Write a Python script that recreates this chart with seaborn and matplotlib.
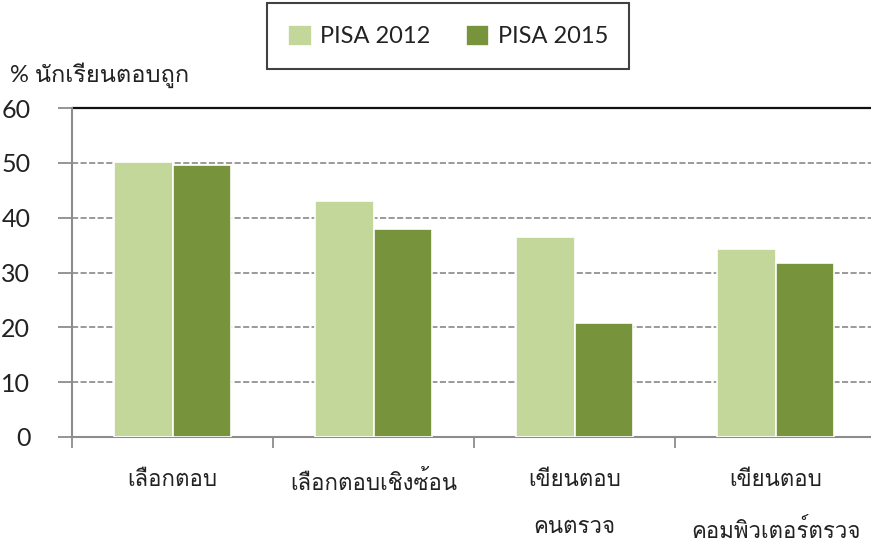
import matplotlib
matplotlib.use("Agg")
import matplotlib.pyplot as plt
from matplotlib import font_manager
from matplotlib.ft2font import FT2Font
import seaborn as sns
import pandas as pd

categories = ["เลือกตอบ", "เลือกตอบเชิงซ้อน", "เขียนตอบ\n\nคนตรวจ", "เขียนตอบ\n\nคอมพิวเตอร์ตรวจ"]
series_names = ["PISA 2012", "PISA 2015"]
pisa_2012 = [50.1, 43.1, 36.4, 34.2]
pisa_2015 = [49.6, 38.0, 20.8, 31.8]
y_ticks = [0, 10, 20, 30, 40, 50, 60]
y_title = "% นักเรียนตอบถูก"

# find a family that covers Thai
thai_fams = []
for f in font_manager.fontManager.ttflist:
    try:
        cm = FT2Font(f.fname).get_charmap()
        if ord("ก") in cm and ord("เ") in cm:
            if f.name not in thai_fams:
                thai_fams.append(f.name)
    except Exception:
        pass

sns.set_theme(style="white")
fams = ["Lato"] + thai_fams[:1] + ["DejaVu Sans"]
plt.rcParams["font.family"] = fams

df = pd.DataFrame({
    "category": categories * 2,
    "value": pisa_2012 + pisa_2015,
    "series": [series_names[0]] * 4 + [series_names[1]] * 4,
})

fig = plt.figure(figsize=(8.71, 5.41), dpi=100)
ax = fig.add_axes([72 / 871, 1 - 437 / 541, 804 / 871, 329 / 541])

palette = {"PISA 2012": "#C4D79B", "PISA 2015": "#77933C"}
sns.barplot(data=df, x="category", y="value", hue="series", palette=palette,
            saturation=1, width=0.58, edgecolor="white", linewidth=1.2, ax=ax,
            zorder=3, legend=True)

ax.set_ylim(0, 60)
ax.set_xlim(-0.5, 3.5)
ax.set_yticks(y_ticks)
ax.set_yticklabels([str(v) for v in y_ticks], fontsize=18, color="#222222")
for v in y_ticks[1:-1]:
    ax.axhline(v, color="#7f7f7f", lw=1.1, ls=(0, (4, 1.6)), zorder=1)
ax.axhline(60, color="#111111", lw=1.6, zorder=2, clip_on=False)

for s in ["top", "right"]:
    ax.spines[s].set_visible(False)
for s in ["left", "bottom"]:
    ax.spines[s].set_color("#8c8c8c")
    ax.spines[s].set_linewidth(1.5)

ax.tick_params(axis="y", which="major", direction="out", length=10, width=1.3,
               color="#8c8c8c", left=True, pad=20)
ax.set_xticks([0, 1, 2, 3])
ax.set_xticklabels(categories, fontsize=16, color="#222222", linespacing=1.2)
ax.tick_params(axis="x", which="major", length=0, pad=24)
ax.set_xticks([-0.5, 0.5, 1.5, 2.5], minor=True)
ax.tick_params(axis="x", which="minor", direction="out", length=8, width=1.3,
               color="#8c8c8c", bottom=True)
ax.set_xlabel("")
ax.set_ylabel("")

fig.text(10 / 871, 1 - 75 / 541, y_title, fontsize=17, color="#222222",
         ha="left", va="center")

handles, labels = ax.get_legend_handles_labels()
ax.get_legend().remove()
leg = fig.legend(handles, labels, loc="center", bbox_to_anchor=(448 / 871, 1 - 36 / 541),
                 ncol=2, fontsize=17, frameon=True, fancybox=False, handlelength=1.0,
                 handleheight=1.0, columnspacing=1.5, handletextpad=0.35,
                 borderpad=0.9, borderaxespad=0)
leg.get_frame().set_edgecolor("#111111")
leg.get_frame().set_linewidth(1.5)
for t in leg.get_texts():
    t.set_color("#222222")

fig.savefig("out.png", dpi=100)
